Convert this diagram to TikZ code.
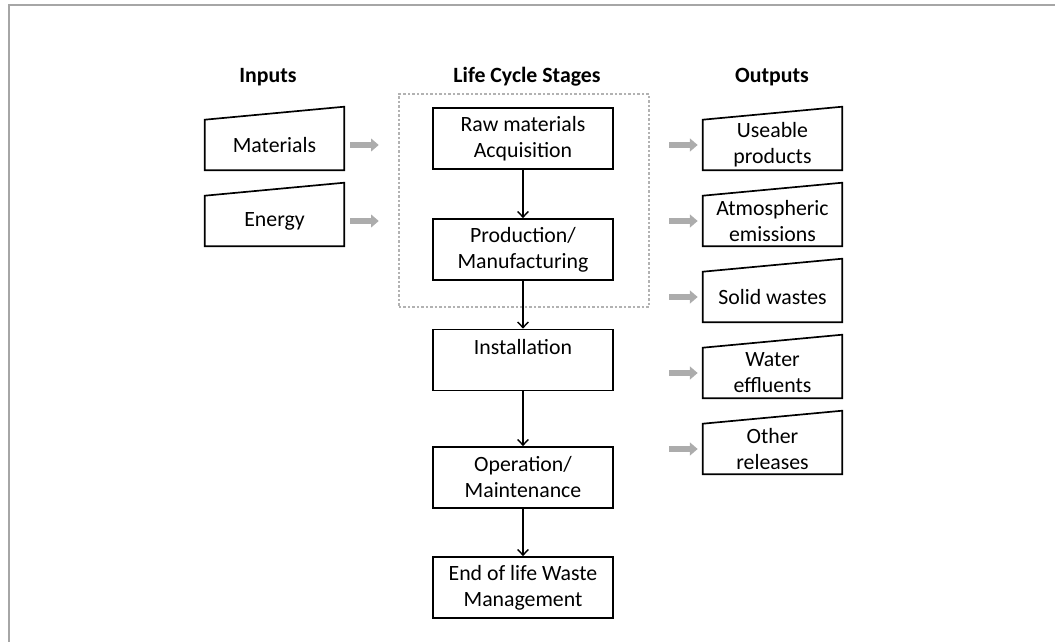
\documentclass[tikz,border=0pt]{standalone}
\usepackage{fontspec}
\setmainfont{Carlito}
\usetikzlibrary{arrows.meta,positioning}

\begin{document}
\begin{tikzpicture}[
    x=0.025cm, y=-0.025cm,
    every node/.style={font=\fontsize{15.5}{18.5}\selectfont},
    head/.style={font=\fontsize{15.5}{18.5}\selectfont\bfseries, anchor=base},
    stage/.style={rectangle, draw, line width=1.2pt, minimum width=4.5cm, minimum height=1.525cm, align=center, inner sep=0pt},
    io/.style={rectangle, minimum width=3.475cm, minimum height=1.25cm, align=center, inner sep=0pt},
    slant/.style={line width=1.2pt, line join=miter},
    group/.style={rectangle, draw=gray!60, line width=1.7pt, dash pattern=on 1.7pt off 1.5pt, minimum width=6.25cm, minimum height=5.325cm},
    arrow/.style={-{Straight Barb[length=4pt, width=7.5pt]}, line width=1pt},
    flow/.style={-{Triangle[length=5.5pt, width=9pt]}, line width=3.8pt, draw=gray!65}
]

\useasboundingbox (0,0) rectangle (1055,642);
\draw[gray!70, line width=0.9pt] (9,642) -- (9,5) -- (1055,5);

% Headings
\node[head] (hin) at (268,83) {Inputs};
\node[head] (hlcs) at (527,83) {Life Cycle Stages};
\node[head] (hout) at (772,83) {Outputs};

% Life cycle stages
\node[group] (lcs) at (524,200.5) {};
\node[stage] (raw) at (523,138.5) {Raw materials\\Acquisition};
\node[stage] (prod) at (523,249.5) {Production/\\Manufacturing};
\node[stage] (inst) at (523,360) {Installation\\\mbox{}};
\node[stage] (oper) at (523,477.5) {Operation/\\Maintenance};
\node[stage] (eol) at (523,587.5) {End of life Waste\\Management};

\draw[arrow] (raw) -- (prod);
\draw[arrow] (prod) -- (inst);
\draw[arrow] (inst) -- (oper);
\draw[arrow] (oper) -- (eol);

% Inputs
\node[io] (mat) at (274.5,145) {Materials};
\node[io] (ene) at (274.5,221) {Energy};

% Outputs
\node[io] (use) at (772.5,145) {Useable\\products};
\node[io] (atm) at (772.5,221) {Atmospheric\\emissions};
\node[io] (sol) at (772.5,297) {Solid wastes};
\node[io] (wat) at (772.5,373) {Water\\effluents};
\node[io] (oth) at (772.5,449) {Other\\releases};

\foreach \n in {mat,ene,use,atm,sol,wat,oth}
    \draw[slant] (\n.south west) -- (\n.south east) -- ([yshift=0.325cm]\n.north east) -- (\n.north west) -- cycle;

\foreach \n in {mat,ene}
    \draw[flow, shorten <=0.15cm, shorten >=0.475cm] (\n.east) -- (\n -| lcs.west);

\foreach \n in {use,atm,sol,wat,oth}
    \draw[flow, shorten <=0.475cm, shorten >=0.125cm] (\n -| lcs.east) -- (\n.west);

\end{tikzpicture}
\end{document}
